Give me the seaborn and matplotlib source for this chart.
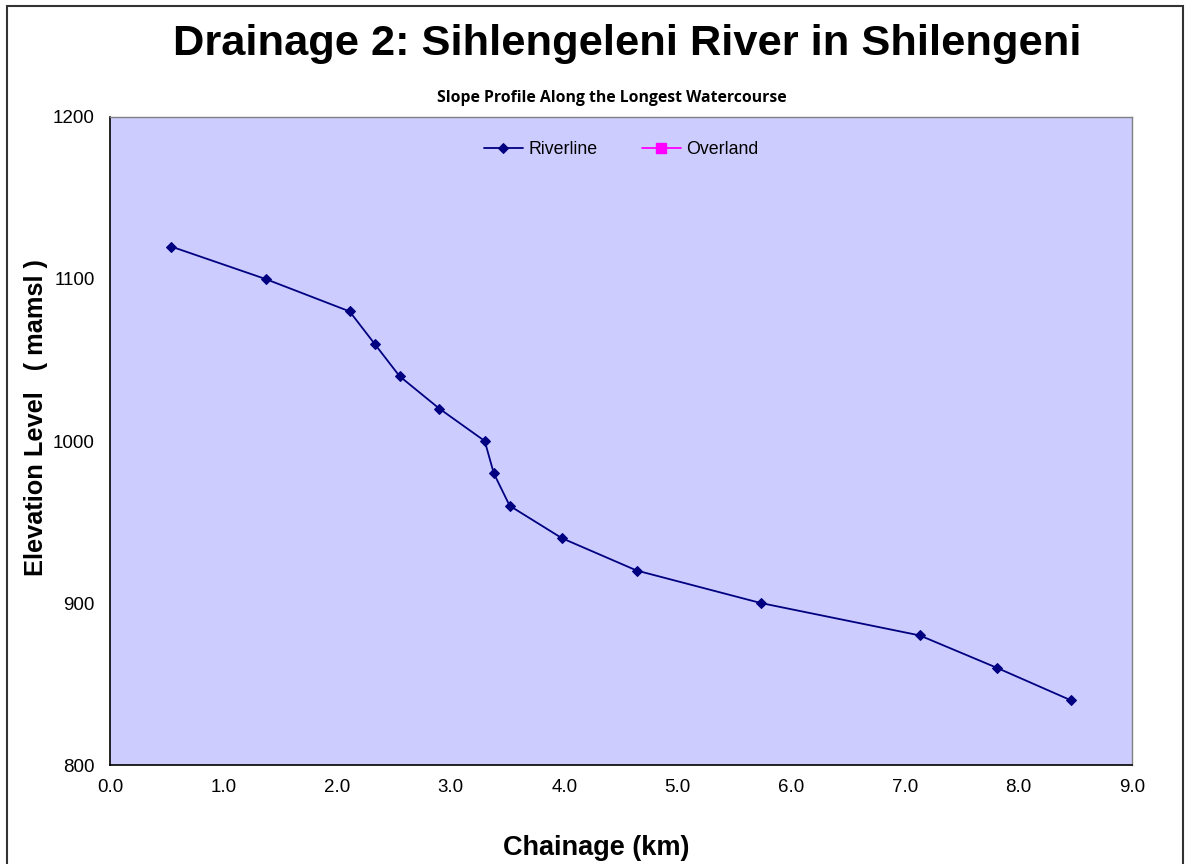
import matplotlib
matplotlib.use("Agg")
import matplotlib.pyplot as plt
import seaborn as sns
import pandas as pd
from matplotlib.patches import Rectangle

chainage_km = [0.54, 1.37, 2.11, 2.33, 2.55, 2.90, 3.30, 3.38, 3.52, 3.98, 4.64, 5.73, 7.13, 7.81, 8.46]
elevation_m = [1120, 1100, 1080, 1060, 1040, 1020, 1000, 980, 960, 940, 920, 900, 880, 860, 840]
overland_km = []
overland_m = []

x_ticks = [0, 1, 2, 3, 4, 5, 6, 7, 8, 9]
y_ticks = [800, 900, 1000, 1100, 1200]

sns.set_style("white")
plt.rcParams['font.family'] = ['Liberation Sans', 'DejaVu Sans']
plt.rcParams['text.color'] = 'black'
plt.rcParams['xtick.color'] = 'black'
plt.rcParams['ytick.color'] = 'black'

df = pd.DataFrame({'chainage': chainage_km, 'elevation': elevation_m})

fig = plt.figure(figsize=(11.88, 8.64), dpi=100)
ax = fig.add_axes([110 / 1188, 1 - 765 / 864, (1132 - 110) / 1188, (765 - 117) / 864])
ax.set_facecolor('#CCCCFF')

sns.lineplot(data=df, x='chainage', y='elevation', ax=ax, color='#000080',
             marker='D', markersize=5, linewidth=1.3, markeredgecolor='#000080',
             label='Riverline', sort=False)
ax.plot(overland_km, overland_m, color='#FF00FF', marker='s', markersize=7,
        linewidth=1.3, label='Overland')

ax.set_xlim(0, 9)
ax.set_ylim(800, 1200)
ax.set_xticks(x_ticks)
ax.set_xticklabels([f"{v:.1f}" for v in x_ticks], fontsize=13.5)
ax.set_yticks(y_ticks)
ax.set_yticklabels([str(v) for v in y_ticks], fontsize=13.5)
ax.tick_params(axis='x', direction='in', length=7, width=0.8, color='#333333', pad=10)
ax.tick_params(axis='y', direction='out', length=6, width=0.8, color='#333333', pad=5)

for side in ['top', 'right']:
    ax.spines[side].set_color('#808080')
    ax.spines[side].set_linewidth(1)
for side in ['left', 'bottom']:
    ax.spines[side].set_color('#000000')
    ax.spines[side].set_linewidth(1.2)

ax.set_xlabel('')
ax.set_ylabel('')
fig.text(596 / 1188, 1 - 848 / 864, 'Chainage (km)', ha='center', va='center',
         fontsize=19.5, fontweight='bold')
fig.text(36 / 1188, 1 - 418 / 864, 'Elevation Level   ( mamsl )', ha='center', va='center',
         rotation=90, fontsize=18.3, fontweight='bold')

fig.text(627 / 1188, 1 - 44 / 864, 'Drainage 2: Sihlengeleni River in Shilengeni',
         ha='center', va='center', fontsize=31.2, fontweight='bold')
fig.text(612 / 1188, 1 - 98 / 864, 'Slope Profile Along the Longest Watercourse',
         ha='center', va='center', fontsize=11.3, fontweight='bold',
         family=['Open Sans', 'DejaVu Sans'])

leg = ax.legend(loc='upper center', bbox_to_anchor=(0.5, 0.988), ncol=2, frameon=False,
                fontsize=12.8, handlelength=2.2, columnspacing=2.5, handletextpad=0.3)

fig.patches.append(Rectangle((7 / 1188, -0.05), (1183 - 7) / 1188, 1.05 - 6 / 864,
                             transform=fig.transFigure, fill=False,
                             edgecolor='#333333', linewidth=1.5))

fig.savefig('out.png', dpi=100)
plt.close(fig)
